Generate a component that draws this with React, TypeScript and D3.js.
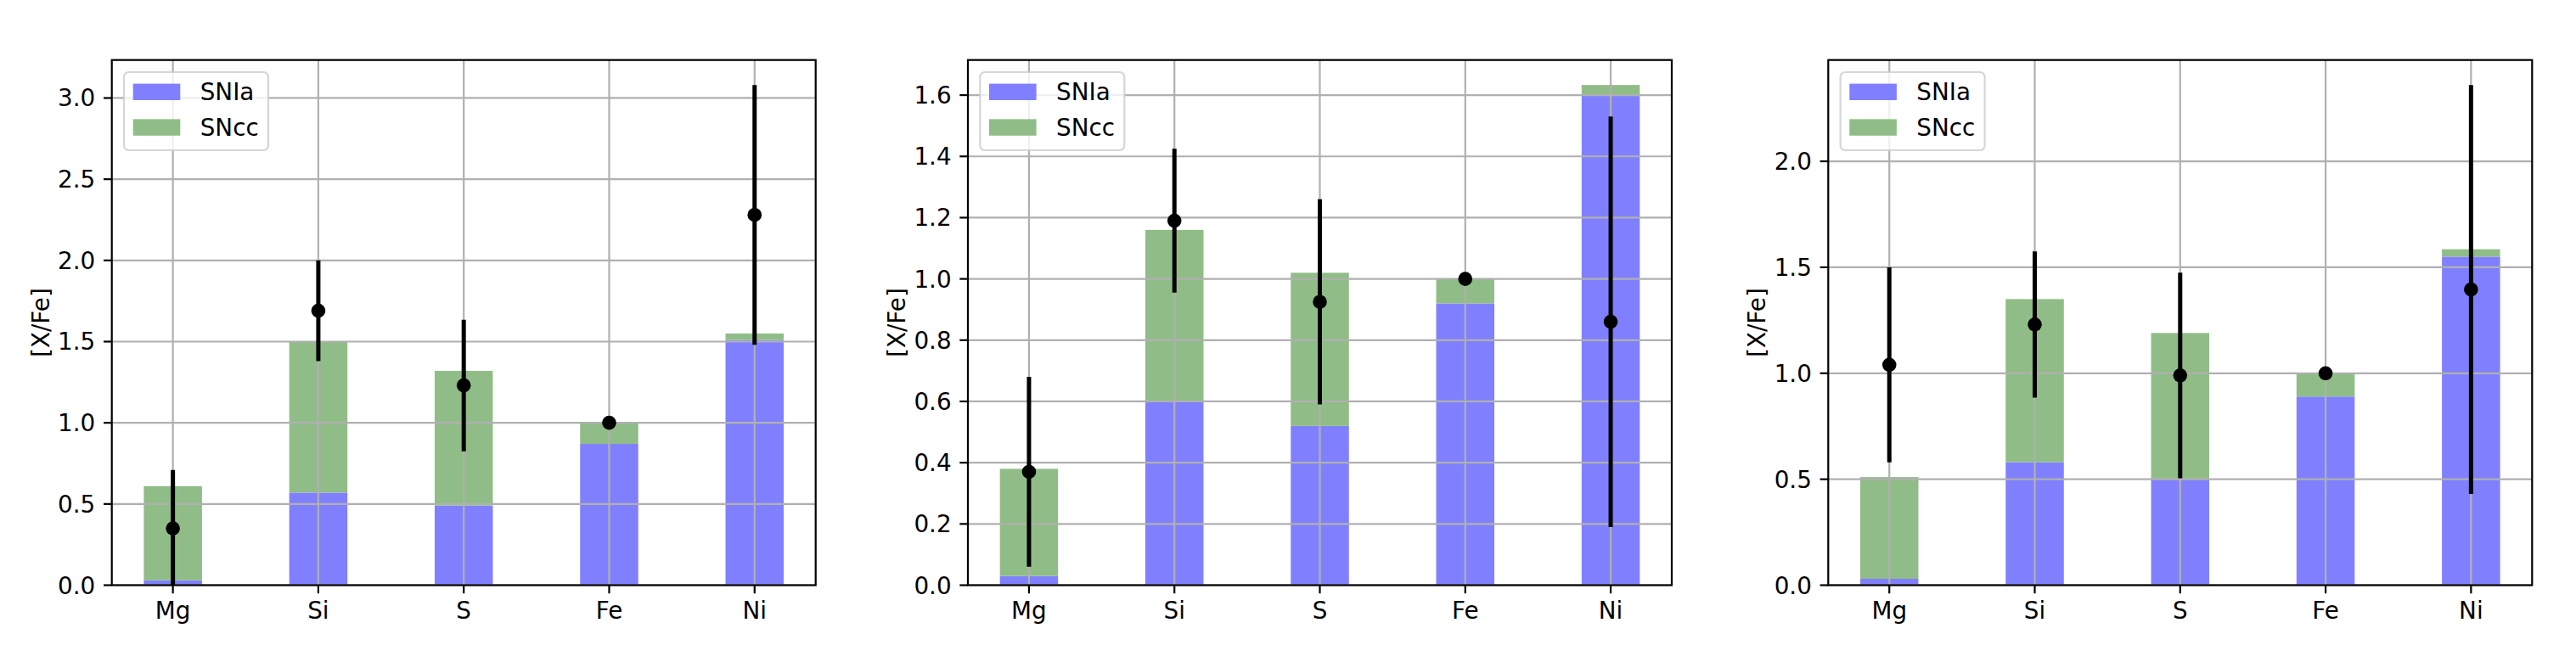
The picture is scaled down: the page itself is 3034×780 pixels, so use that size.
import { useEffect, useRef } from "react"
import * as d3 from "d3"

const elements = ["Mg", "Si", "S", "Fe", "Ni"]
const seriesNames = ["SNIa", "SNcc"]

// left panel
const snIa1 = [0.03, 0.57, 0.49, 0.87, 1.51]
const snCc1 = [0.58, 0.93, 0.83, 0.13, 0.04]
const obs1 = [0.35, 1.69, 1.23, 1.0, 2.28]
const err1 = [0.36, 0.31, 0.405, 0, 0.8]
const yTicks1 = [0, 0.5, 1.0, 1.5, 2.0, 2.5, 3.0]

// middle panel
const snIa2 = [0.03, 0.6, 0.52, 0.92, 1.6]
const snCc2 = [0.35, 0.56, 0.5, 0.08, 0.033]
const obs2 = [0.37, 1.19, 0.925, 1.0, 0.86]
const err2 = [0.31, 0.235, 0.335, 0, 0.67]
const yTicks2 = [0, 0.2, 0.4, 0.6, 0.8, 1.0, 1.2, 1.4, 1.6]

// right panel
const snIa3 = [0.03, 0.58, 0.5, 0.89, 1.55]
const snCc3 = [0.48, 0.77, 0.69, 0.11, 0.035]
const obs3 = [1.04, 1.23, 0.99, 1.0, 1.395]
const err3 = [0.46, 0.345, 0.485, 0, 0.965]
const yTicks3 = [0, 0.5, 1.0, 1.5, 2.0]

const panels = [
  { snIa: snIa1, snCc: snCc1, obs: obs1, err: err1, ticks: yTicks1 },
  { snIa: snIa2, snCc: snCc2, obs: obs2, err: err2, ticks: yTicks2 },
  { snIa: snIa3, snCc: snCc3, obs: obs3, err: err3, ticks: yTicks3 },
]

const W = 3034
const H = 780
const axLefts = [131.7, 1140, 2153.3]
const axWidth = 829
const axTop = 70.7
const axBottom = 689.5
const fontSize = 27.8
const font = "DejaVu Sans"
const blue = "#8080ff"
const green = "#90bd87"
const gridColor = "#b0b0b0"
const barWidth = 0.4

export default function App() {
  const svgRef = useRef<SVGSVGElement>(null)

  useEffect(() => {
    if (!svgRef.current) return
    const svg = d3.select(svgRef.current)
    svg.selectAll("*").remove()

    panels.forEach((p, pi) => {
      const left = axLefts[pi]
      const right = left + axWidth
      const g = svg.append("g")

      // x domain like matplotlib: bar extent plus 5% margins
      const n = elements.length
      const lo = -barWidth / 2
      const hi = n - 1 + barWidth / 2
      const pad = (hi - lo) * 0.05
      const x = d3.scaleLinear().domain([lo - pad, hi + pad]).range([left, right])

      const tops = p.snIa.map((v, i) => v + p.snCc[i])
      const errTops = p.obs.map((v, i) => v + p.err[i])
      const yMax = d3.max([...tops, ...errTops]) || 1
      const y = d3.scaleLinear().domain([0, yMax * 1.05]).range([axBottom, axTop])

      const clipId = `clip-${pi}`
      svg
        .append("defs")
        .append("clipPath")
        .attr("id", clipId)
        .append("rect")
        .attr("x", left)
        .attr("y", axTop)
        .attr("width", axWidth)
        .attr("height", axBottom - axTop)

      const plot = g.append("g").attr("clip-path", `url(#${clipId})`)

      // SNIa bars
      plot
        .selectAll(".bar-ia")
        .data(elements)
        .enter()
        .append("rect")
        .attr("x", (_, i) => x(i - barWidth / 2))
        .attr("width", (_, i) => x(i + barWidth / 2) - x(i - barWidth / 2))
        .attr("y", (_, i) => y(p.snIa[i]))
        .attr("height", (_, i) => y(0) - y(p.snIa[i]))
        .attr("fill", blue)

      // SNcc stacked on top
      plot
        .selectAll(".bar-cc")
        .data(elements)
        .enter()
        .append("rect")
        .attr("x", (_, i) => x(i - barWidth / 2))
        .attr("width", (_, i) => x(i + barWidth / 2) - x(i - barWidth / 2))
        .attr("y", (_, i) => y(tops[i]))
        .attr("height", (_, i) => y(p.snIa[i]) - y(tops[i]))
        .attr("fill", green)

      // grid
      plot
        .selectAll(".hgrid")
        .data(p.ticks)
        .enter()
        .append("line")
        .attr("x1", left)
        .attr("x2", right)
        .attr("y1", (d) => y(d))
        .attr("y2", (d) => y(d))
        .attr("stroke", gridColor)
        .attr("stroke-width", 2.2)

      plot
        .selectAll(".vgrid")
        .data(elements)
        .enter()
        .append("line")
        .attr("x1", (_, i) => x(i))
        .attr("x2", (_, i) => x(i))
        .attr("y1", axTop)
        .attr("y2", axBottom)
        .attr("stroke", gridColor)
        .attr("stroke-width", 2.2)

      // error bars
      plot
        .selectAll(".err")
        .data(elements)
        .enter()
        .append("line")
        .attr("x1", (_, i) => x(i))
        .attr("x2", (_, i) => x(i))
        .attr("y1", (_, i) => y(p.obs[i] - p.err[i]))
        .attr("y2", (_, i) => y(p.obs[i] + p.err[i]))
        .attr("stroke", "black")
        .attr("stroke-width", 5)

      plot
        .selectAll(".pt")
        .data(elements)
        .enter()
        .append("circle")
        .attr("cx", (_, i) => x(i))
        .attr("cy", (_, i) => y(p.obs[i]))
        .attr("r", 8.3)
        .attr("fill", "black")

      // spines
      g.append("rect")
        .attr("x", left)
        .attr("y", axTop)
        .attr("width", axWidth)
        .attr("height", axBottom - axTop)
        .attr("fill", "none")
        .attr("stroke", "black")
        .attr("stroke-width", 2.2)

      // y ticks
      p.ticks.forEach((t) => {
        g.append("line")
          .attr("x1", left - 9.7)
          .attr("x2", left)
          .attr("y1", y(t))
          .attr("y2", y(t))
          .attr("stroke", "black")
          .attr("stroke-width", 2.2)
        g.append("text")
          .attr("x", left - 19.4)
          .attr("y", y(t))
          .attr("dy", "0.36em")
          .attr("text-anchor", "end")
          .style("font-family", font)
          .style("font-size", `${fontSize}px`)
          .attr("fill", "black")
          .text(d3.format(".1f")(t))
      })

      // x ticks
      elements.forEach((el, i) => {
        g.append("line")
          .attr("x1", x(i))
          .attr("x2", x(i))
          .attr("y1", axBottom)
          .attr("y2", axBottom + 9.7)
          .attr("stroke", "black")
          .attr("stroke-width", 2.2)
        g.append("text")
          .attr("x", x(i))
          .attr("y", axBottom + 39.6)
          .attr("text-anchor", "middle")
          .style("font-family", font)
          .style("font-size", `${fontSize}px`)
          .attr("fill", "black")
          .text(el)
      })

      // y label
      g.append("text")
        .attr("transform", `translate(${left - 74},${(axTop + axBottom) / 2}) rotate(-90)`)
        .attr("text-anchor", "middle")
        .style("font-family", font)
        .style("font-size", `${fontSize}px`)
        .attr("fill", "black")
        .text("[X/Fe]")

      // legend
      const lg = g.append("g").attr("transform", `translate(${left + 14.3},${axTop + 14.3})`)
      lg.append("rect")
        .attr("width", 170)
        .attr("height", 92)
        .attr("rx", 5.6)
        .attr("fill", "white")
        .attr("fill-opacity", 0.8)
        .attr("stroke", "#cccccc")
        .attr("stroke-opacity", 0.8)
        .attr("stroke-width", 2.2)
      seriesNames.forEach((name, i) => {
        const item = lg.append("g").attr("transform", `translate(10.7,${13.6 + i * 41.8})`)
        item.append("rect")
          .attr("width", 55.6)
          .attr("height", 19.4)
          .attr("fill", i === 0 ? blue : green)
        item.append("text")
          .attr("x", 79)
          .attr("y", 19.8)
          .style("font-family", font)
          .style("font-size", `${fontSize}px`)
          .attr("fill", "black")
          .text(name)
      })
    })
  }, [])

  return (
    <div style={{ position: "fixed", left: 0, top: 0, width: W, height: H, background: "white" }}>
      <svg ref={svgRef} width={W} height={H} style={{ display: "block" }}></svg>
    </div>
  )
}
